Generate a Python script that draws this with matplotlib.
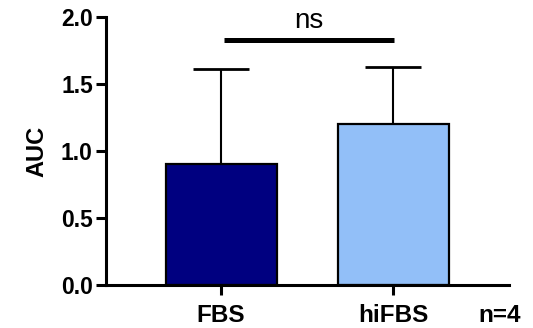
import matplotlib
matplotlib.use("Agg")
import matplotlib.pyplot as plt

groups = ["FBS", "hiFBS"]
auc_mean = [0.90, 1.20]
auc_sd = [0.71, 0.43]
bar_colors = ["#000080", "#92BFF8"]
yticks = [0.0, 0.5, 1.0, 1.5, 2.0]
sig_label = "ns"
n_label = "n=4"

plt.rcParams["font.family"] = ["Liberation Sans", "DejaVu Sans"]

fig = plt.figure(figsize=(5.33, 3.28), dpi=100)
ax = fig.add_axes([0.199, 0.131, 0.756, 0.817])

x = list(range(len(groups)))
ax.bar(x, auc_mean, width=0.645, color=bar_colors, edgecolor="black",
       linewidth=1.6, zorder=2)
ax.errorbar(x, auc_mean, yerr=[[0] * len(x), auc_sd], fmt="none",
            ecolor="black", elinewidth=1.5, capsize=20, capthick=2.0, zorder=1)

ax.set_xlim(-0.669, 1.674)
ax.set_ylim(0, 2.0)
ax.set_yticks(yticks)
ax.set_yticklabels([f"{v:.1f}" for v in yticks], fontsize=16.5, fontweight="bold")
ax.set_xticks(x)
ax.set_xticklabels(groups, fontsize=17.5, fontweight="bold")
ax.set_ylabel("AUC", fontsize=17, fontweight="bold", labelpad=9)

for side in ("top", "right"):
    ax.spines[side].set_visible(False)
for side in ("left", "bottom"):
    ax.spines[side].set_linewidth(2.2)
ax.tick_params(axis="both", length=7.5, width=2.2)
ax.tick_params(axis="y", pad=2)
ax.tick_params(axis="x", pad=6)

# significance bracket between the two groups
ax.plot([0.017, 1.006], [1.83, 1.83], color="black", linewidth=3.6,
        solid_capstyle="butt", clip_on=False)
ax.text(0.51, 1.915, sig_label, ha="center", va="baseline", fontsize=20)

ax.text(1.62, -0.276, n_label, ha="center", va="baseline",
        fontsize=17.5, fontweight="bold", clip_on=False)

fig.savefig("out.png", dpi=100)
